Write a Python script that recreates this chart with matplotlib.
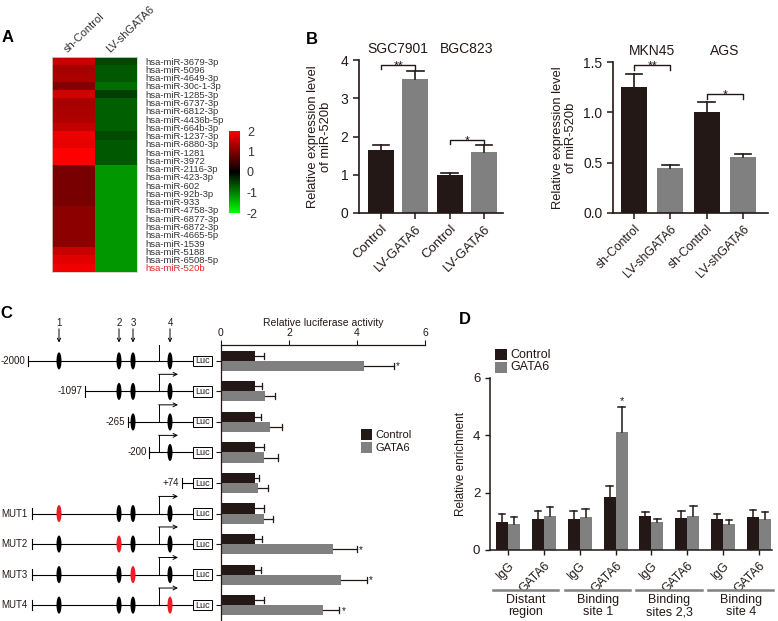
import numpy as np
import matplotlib
matplotlib.use('Agg')
import matplotlib.pyplot as plt
from matplotlib.colors import LinearSegmentedColormap
from matplotlib.patches import Ellipse, Rectangle
import matplotlib.transforms as mtransforms

plt.rcParams['font.family'] = ['Liberation Sans', 'DejaVu Sans']

# ---------------- DATA ----------------
mirnas = ['hsa-miR-3679-3p', 'hsa-miR-5096', 'hsa-miR-4649-3p', 'hsa-miR-30c-1-3p',
          'hsa-miR-1285-3p', 'hsa-miR-6737-3p', 'hsa-miR-6812-3p', 'hsa-miR-4436b-5p',
          'hsa-miR-664b-3p', 'hsa-miR-1237-3p', 'hsa-miR-6880-3p', 'hsa-miR-1281',
          'hsa-miR-3972', 'hsa-miR-2116-3p', 'hsa-miR-423-3p', 'hsa-miR-602',
          'hsa-miR-92b-3p', 'hsa-miR-933', 'hsa-miR-4758-3p', 'hsa-miR-6877-3p',
          'hsa-miR-6872-3p', 'hsa-miR-4665-5p', 'hsa-miR-1539', 'hsa-miR-5188',
          'hsa-miR-6508-5p', 'hsa-miR-520b']
hm_columns = ['sh-Control', 'LV-shGATA6']
hm_sh_control = [1.57, 1.30, 1.33, 1.02, 1.65, 1.30, 1.33, 1.37, 1.50, 1.85, 1.80, 2.0, 2.0,
                 0.94, 0.94, 0.94, 0.94, 0.94, 1.10, 1.10, 1.10, 1.10, 1.10, 1.57, 1.76, 1.88]
hm_lv_shgata6 = [-0.55, -0.70, -0.70, -0.85, -0.47, -0.75, -0.75, -0.75, -0.75, -0.59, -0.70,
                 -0.70, -0.70, -1.18, -1.18, -1.18, -1.18, -1.18, -1.18, -1.18, -1.18, -1.18,
                 -1.18, -1.18, -1.18, -1.18]

b1_groups = ['SGC7901', 'BGC823']
b1_labels = ['Control', 'LV-GATA6', 'Control', 'LV-GATA6']
b1_values = [1.65, 3.50, 1.00, 1.60]
b1_err = [0.12, 0.20, 0.05, 0.17]
b1_sig = ['**', '*']
b1_sig_y = [3.87, 1.91]

b2_groups = ['MKN45', 'AGS']
b2_labels = ['sh-Control', 'LV-shGATA6', 'sh-Control', 'LV-shGATA6']
b2_values = [1.25, 0.45, 1.00, 0.56]
b2_err = [0.13, 0.03, 0.10, 0.03]
b2_sig = ['**', '*']
b2_sig_y = [1.467, 1.18]

c_constructs = ['-2000', '-1097', '-265', '-200', '+74', 'MUT1', 'MUT2', 'MUT3', 'MUT4']
c_control = [1.0, 1.0, 1.0, 1.0, 1.0, 1.0, 1.0, 1.0, 1.0]
c_control_err = [0.27, 0.20, 0.17, 0.27, 0.13, 0.27, 0.20, 0.17, 0.27]
c_gata6 = [4.20, 1.29, 1.44, 1.27, 1.10, 1.25, 3.29, 3.54, 2.99]
c_gata6_err = [0.89, 0.31, 0.34, 0.42, 0.29, 0.27, 0.70, 0.74, 0.49]
c_sig = ['*', '', '', '', '', '', '*', '*', '*']

# schematic (not to scale) positions of promoter features
c_site_names = ['1', '2', '3', '4']
c_site_pos = [59, 119, 133, 170]
c_tss_pos = 159
c_luc_pos = (193, 212)
c_start_pos = [28, 85, 128, 149, 182, 32, 32, 32, 32]
c_sites_present = [[0, 1, 2, 3], [1, 2, 3], [2, 3], [3], [], [0, 1, 2, 3], [0, 1, 2, 3],
                   [0, 1, 2, 3], [0, 1, 2, 3]]
c_mutated = [None, None, None, None, None, 0, 1, 2, 3]

d_regions = ['Distant\nregion', 'Binding\nsite 1', 'Binding\nsites 2,3', 'Binding\nsite 4']
d_ab = ['IgG', 'GATA6', 'IgG', 'GATA6', 'IgG', 'GATA6', 'IgG', 'GATA6']
d_control = [0.99, 1.08, 1.08, 1.84, 1.19, 1.12, 1.07, 1.15]
d_control_err = [0.27, 0.27, 0.27, 0.39, 0.12, 0.23, 0.20, 0.23]
d_gata6 = [0.91, 1.20, 1.14, 4.12, 0.99, 1.20, 0.90, 1.08]
d_gata6_err = [0.23, 0.29, 0.30, 0.87, 0.10, 0.32, 0.16, 0.23]
d_sig = ['', '', '', '*', '', '', '', '']

# ---------------- FIGURE ----------------
W, H = 778, 621
fig = plt.figure(figsize=(W / 100, H / 100), dpi=100)


def ax_px(x0, y0, x1, y1):
    return fig.add_axes([x0 / W, 1 - y1 / H, (x1 - x0) / W, (y1 - y0) / H])


def ftext(x, y, s, **kw):
    return fig.text(x / W, 1 - y / H, s, **kw)


def fig_square(x, y, w, h, color):
    fig.add_artist(Rectangle((x / W, 1 - (y + h) / H), w / W, h / H,
                             transform=fig.transFigure, facecolor=color, edgecolor='none'))


BLACK = '#231815'
GRAY = '#808080'
TXT = '#231815'

# panel letters
for lab, x, y in [('A', 2, 38), ('B', 306, 39), ('C', 0, 314), ('D', 459, 320)]:
    ftext(x, y, lab, fontsize=12, fontweight='bold', va='center', ha='left', color='black')

# ---------------- PANEL A ----------------
cmap = LinearSegmentedColormap.from_list('gbr', ['#00ff00', '#000000', '#ff0000'])
axA = ax_px(52, 57, 137, 272)
hm = np.array([hm_sh_control, hm_lv_shgata6]).T
mesh = axA.pcolormesh(np.arange(hm.shape[1] + 1), np.arange(hm.shape[0] + 1), hm,
                      cmap=cmap, vmin=-2, vmax=2)
axA.set_xlim(0, 2)
axA.set_ylim(len(mirnas), 0)
axA.set_xticks([])
axA.yaxis.tick_right()
axA.set_yticks(np.arange(len(mirnas)) + 0.5)
axA.set_yticklabels(mirnas, fontsize=6.8, color='#333333')
axA.tick_params(axis='y', length=0, pad=6)
axA.get_yticklabels()[-1].set_color('#e8262a')
for s in axA.spines.values():
    s.set_color('#d8cfc8')
    s.set_linewidth(0.6)
for j, name in enumerate(hm_columns):
    axA.text(j + 0.36, -0.48, name, rotation=44, ha='left', va='baseline',
             rotation_mode='anchor', fontsize=8.0, color='#333333', clip_on=False)

cax = ax_px(229, 131, 240, 213)
cb = fig.colorbar(mesh, cax=cax, ticks=[-2, -1, 0, 1, 2])
cb.outline.set_visible(False)
cax.tick_params(length=0, labelsize=9, pad=5, colors='#333333')
cax.set_yticklabels(['-2', '-1', '0', '1', '2'])


# ---------------- PANEL B ----------------
def bar_panel(ax, values, errs, labels, groups, sig, sig_y, ylim, yticks, yticklabels,
              width, title_y, labelsize, px_per_unit):
    x = np.arange(len(values))
    colors = [BLACK, GRAY, BLACK, GRAY]
    ax.bar(x, values, width=width, color=colors, zorder=2)
    cap = width * 0.32
    for xi, v, e in zip(x, values, errs):
        ax.plot([xi, xi], [v, v + e], color=BLACK, lw=1.2, zorder=3)
        ax.plot([xi - cap, xi + cap], [v + e, v + e], color=BLACK, lw=1.2, zorder=3)
    ax.set_ylim(*ylim)
    ax.set_yticks(yticks)
    ax.set_yticklabels(yticklabels, fontsize=10, color=TXT)
    ax.set_xticks(x)
    ax.set_xticklabels(labels, rotation=45, ha='right', rotation_mode='anchor',
                       fontsize=labelsize, color=TXT)
    ax.tick_params(axis='both', length=4, width=1.1, color=TXT)
    ax.tick_params(axis='x', pad=3)
    for sp in ['top', 'right']:
        ax.spines[sp].set_visible(False)
    for sp in ['left', 'bottom']:
        ax.spines[sp].set_linewidth(1.2)
        ax.spines[sp].set_color(TXT)
    dy = 4.5 / px_per_unit
    for g in range(2):
        x0, x1 = 2 * g, 2 * g + 1
        yb = sig_y[g]
        ax.plot([x0, x0, x1, x1], [yb - dy, yb, yb, yb - dy], color=TXT, lw=1.0,
                clip_on=False)
        ax.text((x0 + x1) / 2, yb - 4.0 / px_per_unit, sig[g], ha='center', va='baseline',
                fontsize=9, color=TXT, clip_on=False)
        ax.text((x0 + x1) / 2, title_y, groups[g], ha='center', va='center',
                fontsize=10, color=TXT, clip_on=False)


axB1 = ax_px(359, 60, 503, 213)
axB1.set_xlim(-0.64, 3.55)
bar_panel(axB1, b1_values, b1_err, b1_labels, b1_groups, b1_sig, b1_sig_y, (0, 4),
          [0, 1, 2, 3, 4], ['0', '1', '2', '3', '4'], 0.76, 4.28, 9.5, 153 / 4)
axB1.set_ylabel('Relative expression level\nof miR-520b', fontsize=9.3, color=TXT,
                linespacing=1.1)
axB1.yaxis.set_label_coords(-0.19, 0.5)

axB2 = ax_px(613, 62, 768, 213)
axB2.set_xlim(-0.58, 3.69)
bar_panel(axB2, b2_values, b2_err, b2_labels, b2_groups, b2_sig, b2_sig_y, (0, 1.5),
          [0, 0.5, 1.0, 1.5], ['0.0', '0.5', '1.0', '1.5'], 0.72, 1.61, 8.8, 151 / 1.5)
axB2.set_ylabel('Relative expression level\nof miR-520b', fontsize=9.3, color=TXT,
                linespacing=1.1)
axB2.yaxis.set_label_coords(-0.23, 0.5)

# ---------------- PANEL C ----------------
ylimC = (8.52, -0.52)
axC = ax_px(221, 345, 425, 621)
n = len(c_constructs)
y = np.arange(n)
bh = 0.33
axC.barh(y - bh / 2, c_control, height=bh, color=BLACK, zorder=2)
axC.barh(y + bh / 2, c_gata6, height=bh, color=GRAY, zorder=2)
for yi, v, e in zip(y - bh / 2, c_control, c_control_err):
    axC.plot([v, v + e], [yi, yi], color=BLACK, lw=0.9, zorder=3)
    axC.plot([v + e, v + e], [yi - 0.1, yi + 0.1], color=BLACK, lw=0.9, zorder=3)
for yi, v, e, s in zip(y + bh / 2, c_gata6, c_gata6_err, c_sig):
    axC.plot([v, v + e], [yi, yi], color=BLACK, lw=0.9, zorder=3)
    axC.plot([v + e, v + e], [yi - 0.1, yi + 0.1], color=BLACK, lw=0.9, zorder=3)
    if s:
        axC.text(v + e + 0.06, yi + 0.02, s, ha='left', va='center', fontsize=7, color=TXT)
axC.set_xlim(0, 6)
axC.set_ylim(*ylimC)
axC.xaxis.tick_top()
axC.set_xticks([0, 2, 4, 6])
axC.set_xticklabels(['0', '2', '4', '6'], fontsize=7.5, color=TXT)
axC.set_yticks(y)
axC.set_yticklabels([])
axC.tick_params(axis='both', length=3.5, width=0.8, color=TXT, pad=1.5)
for sp in ['bottom', 'right']:
    axC.spines[sp].set_visible(False)
for sp in ['top', 'left']:
    axC.spines[sp].set_linewidth(0.9)
    axC.spines[sp].set_color(TXT)
ftext(323, 323, 'Relative luciferase activity', ha='center', va='center', fontsize=7.5,
      color=TXT)
fig_square(361, 429, 11, 11, BLACK)
fig_square(361, 442, 11, 11, GRAY)
ftext(375, 435, 'Control', ha='left', va='center', fontsize=8, color=TXT)
ftext(375, 448, 'GATA6', ha='left', va='center', fontsize=8, color=TXT)

# schematic
axS = ax_px(0, 345, 221, 621)
axS.set_xlim(0, 221)
axS.set_ylim(*ylimC)
axS.axis('off')
for i in range(n):
    st = c_start_pos[i]
    axS.plot([st, c_luc_pos[0]], [i, i], color='black', lw=0.8, zorder=1)
    axS.plot([st, st], [i - 0.17, i + 0.17], color='black', lw=0.8)
    if c_mutated[i] is None:
        axS.text(st - 2.5, i, c_constructs[i], ha='right', va='center', fontsize=7,
                 color=TXT)
    else:
        axS.text(1, i, c_constructs[i], ha='left', va='center', fontsize=7, color=TXT)
    for s in c_sites_present[i]:
        col = '#ee1c25' if c_mutated[i] == s else 'black'
        axS.add_patch(Ellipse((c_site_pos[s], i), width=5, height=0.56, facecolor=col,
                              edgecolor='none', zorder=3))
    if c_sites_present[i]:
        top = i - 0.56
        axS.plot([c_tss_pos, c_tss_pos], [i, top], color='black', lw=0.7)
        axS.annotate('', xy=(178, top), xytext=(c_tss_pos - 0.3, top),
                     arrowprops=dict(arrowstyle='->', lw=0.7, mutation_scale=7,
                                     shrinkA=0, shrinkB=0, color='black'))
    axS.add_patch(Rectangle((c_luc_pos[0], i - 0.17), c_luc_pos[1] - c_luc_pos[0], 0.34,
                            facecolor='white', edgecolor='black', lw=0.7, zorder=2))
    axS.text((c_luc_pos[0] + c_luc_pos[1]) / 2, i, 'Luc', ha='center', va='center',
             fontsize=6.5, color=TXT, zorder=4)
for s, name in enumerate(c_site_names):
    axS.text(c_site_pos[s], -1.25, name, ha='center', va='center', fontsize=7, color=TXT,
             clip_on=False)
    axS.annotate('', xy=(c_site_pos[s], -0.6), xytext=(c_site_pos[s], -1.05),
                 arrowprops=dict(arrowstyle='->', lw=0.7, mutation_scale=6,
                                 shrinkA=0, shrinkB=0, color='black'),
                 annotation_clip=False)

# ---------------- PANEL D ----------------
axD = ax_px(490, 378, 772, 550)
xd = np.arange(len(d_ab))
bw = 0.335
axD.bar(xd - bw / 2, d_control, width=bw, color=BLACK, zorder=2)
axD.bar(xd + bw / 2, d_gata6, width=bw, color=GRAY, zorder=2)
for xs, vals, errs in [(xd - bw / 2, d_control, d_control_err),
                       (xd + bw / 2, d_gata6, d_gata6_err)]:
    for xi, v, e in zip(xs, vals, errs):
        axD.plot([xi, xi], [v, v + e], color=BLACK, lw=1.1, zorder=3)
        axD.plot([xi - 0.09, xi + 0.09], [v + e, v + e], color=BLACK, lw=1.1, zorder=3)
for xi, v, e, s in zip(xd + bw / 2, d_gata6, d_gata6_err, d_sig):
    if s:
        axD.text(xi, v + e + 0.02, s, ha='center', va='bottom', fontsize=8, color=TXT)
axD.set_xlim(-0.5, 7.36)
axD.set_ylim(0, 6)
axD.set_yticks([0, 2, 4, 6])
axD.set_yticklabels(['0', '2', '4', '6'], fontsize=9.5, color=TXT)
axD.set_xticks(xd)
axD.set_xticklabels(d_ab, rotation=45, ha='right', rotation_mode='anchor', fontsize=8.8,
                    color=TXT)
axD.tick_params(axis='both', length=3.5, width=1.0, color=TXT)
for sp in ['top', 'right']:
    axD.spines[sp].set_visible(False)
for sp in ['left', 'bottom']:
    axD.spines[sp].set_linewidth(1.1)
    axD.spines[sp].set_color(TXT)
axD.set_ylabel('Relative enrichment', fontsize=8.5, color=TXT)
axD.yaxis.set_label_coords(-0.082, 0.5)
trD = mtransforms.blended_transform_factory(axD.transData, axD.transAxes)
for g, name in enumerate(d_regions):
    axD.plot([2 * g - 0.42, 2 * g + 1.4], [-0.233, -0.233], color=GRAY, lw=1.8,
             transform=trD, clip_on=False)
    axD.text(2 * g + 0.5, -0.255, name, ha='center', va='top', fontsize=9,
             linespacing=1.05, color=TXT, transform=trD)
fig_square(495, 349, 12, 11, BLACK)
fig_square(495, 362, 12, 11, GRAY)
ftext(510, 354.5, 'Control', ha='left', va='center', fontsize=9, color=TXT)
ftext(510, 367.5, 'GATA6', ha='left', va='center', fontsize=9, color=TXT)

fig.savefig('out.png', dpi=100)
